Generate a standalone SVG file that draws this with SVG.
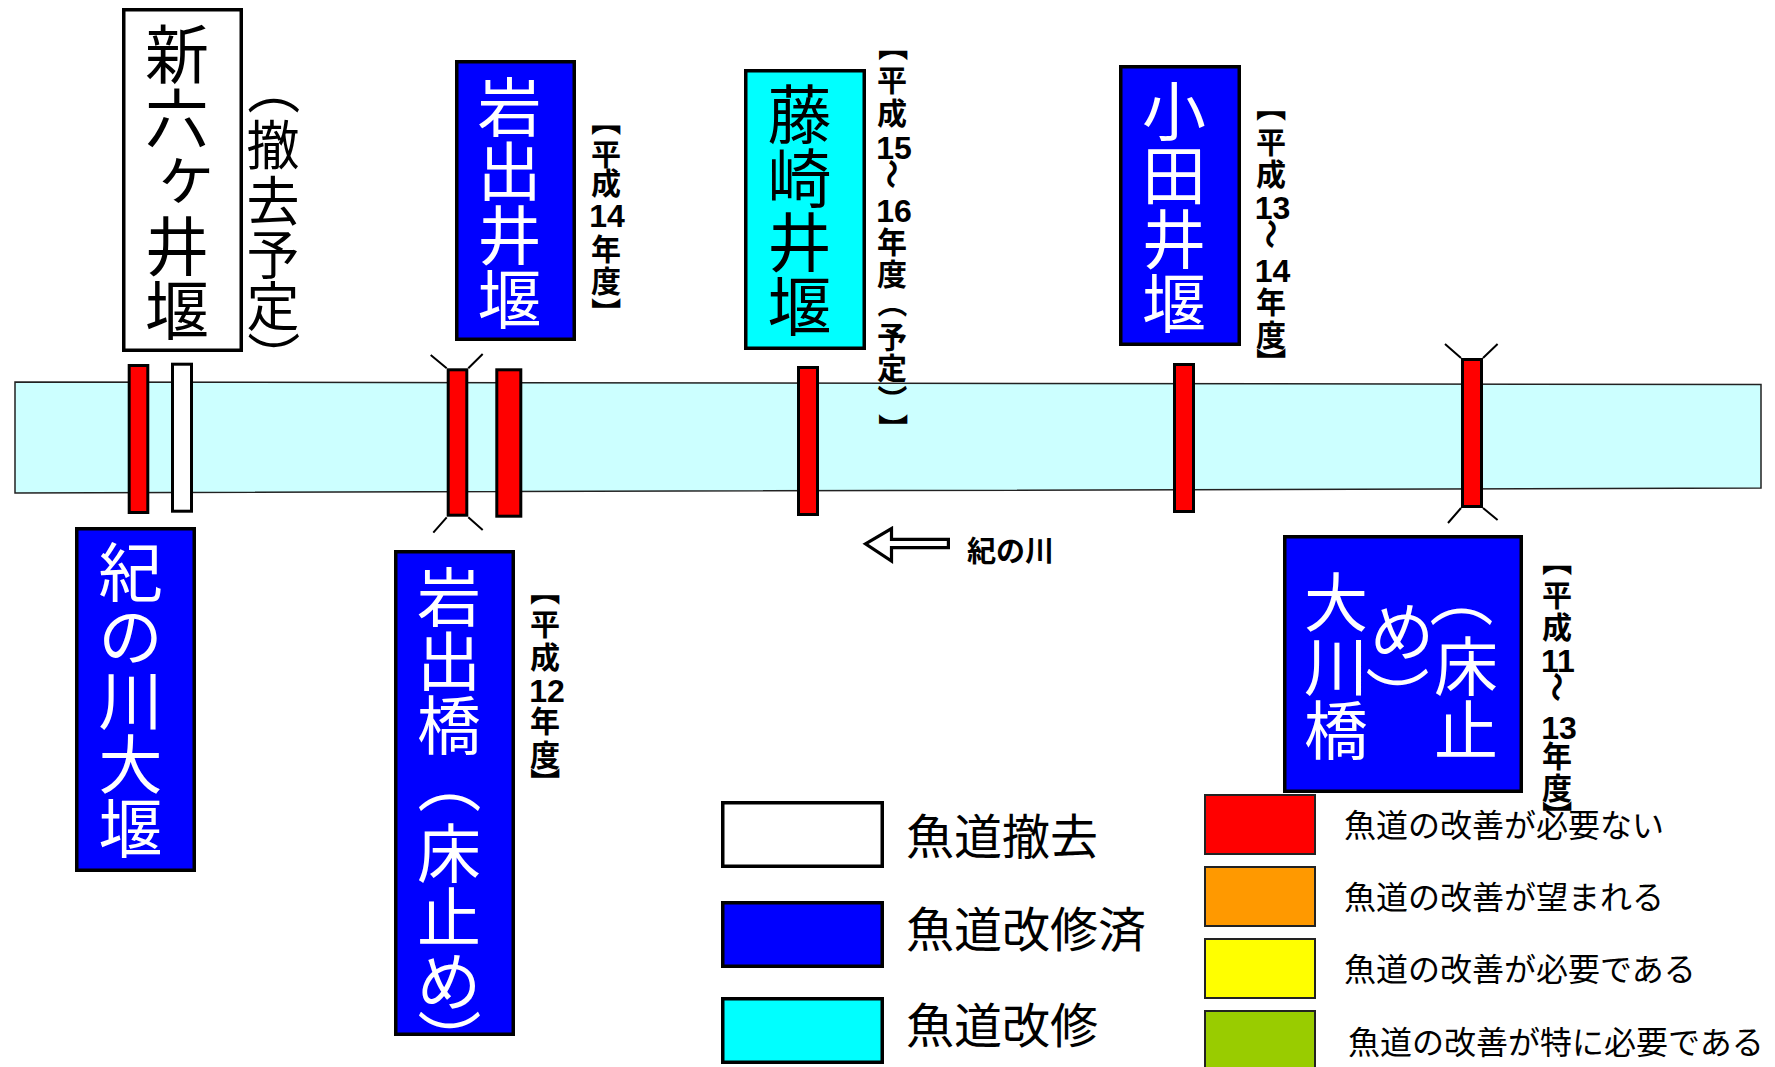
<svg xmlns="http://www.w3.org/2000/svg" width="1775" height="1067" viewBox="0 0 1775 1067">
<style>
text { font-family: "Noto Sans CJK JP", "Noto Sans CJK SC", sans-serif; }
.box { stroke: #000; stroke-width: 3.5; }
.bar { stroke: #000; stroke-width: 3; }
.tick { stroke: #000; stroke-width: 2; fill: none; }
.lbl { font-size: 64px; text-anchor: middle; }
.lbls { font-size: 53px; text-anchor: middle; }
.w { fill: #fff; }
.k { fill: #000; }
.yr { font-size: 30px; font-weight: bold; text-anchor: middle; fill: #000; }
.dg { font-family: "Liberation Sans", Arial, sans-serif; font-size: 32px; font-weight: bold; text-anchor: middle; fill: #000; }
.leg1 { font-size: 48px; fill: #000; }
.leg2 { font-size: 32px; fill: #000; }
.lbox { stroke: #222; stroke-width: 2; }
</style>
<rect width="1775" height="1067" fill="#fff"/>

<g id="river">
  <polygon points="15,382 1761,384.5 1761,488 15,493" fill="#ccffff" stroke="#222" stroke-width="1.5"/>
</g>

<g id="connectors">
  <g id="bar-shinrokka-old">
    <rect class="bar" x="129.2" y="365.5" width="18.6" height="147" fill="#ff0000"/>
  </g>
  <g id="bar-shinrokka-new">
    <rect class="bar" x="172.5" y="364.2" width="19" height="147" fill="#ffffff"/>
  </g>
  <g id="bar-iwadebashi">
    <rect class="bar" x="448.2" y="369.8" width="18.6" height="145.4" fill="#ff0000"/>
    <path class="tick" d="M430.7,355 L446.7,368.3 M468.3,368.3 L482.7,354 M446.7,517.3 L433.3,532.7 M468.3,517.3 L482.7,530"/>
  </g>
  <g id="bar-iwadeizeki">
    <rect class="bar" x="496.8" y="369.8" width="24" height="146.4" fill="#ff0000"/>
  </g>
  <g id="bar-fujisaki">
    <rect class="bar" x="798.5" y="367.5" width="19" height="147" fill="#ff0000"/>
  </g>
  <g id="bar-oda">
    <rect class="bar" x="1174.5" y="364.5" width="19" height="147" fill="#ff0000"/>
  </g>
  <g id="bar-okawabashi">
    <rect class="bar" x="1462.5" y="359.5" width="19" height="147" fill="#ff0000"/>
    <path class="tick" d="M1445,344 L1461,358 M1483,358 L1497.6,344 M1461,508 L1448,523 M1483,508 L1497.6,520"/>
  </g>
</g>

<g id="node-shinrokka">
  <rect class="box" x="123.75" y="9.75" width="117.5" height="340.5" fill="#fff"/>
  <text class="lbl k" x="177" y="77.8">新</text>
  <text class="lbl k" x="177" y="141.8">六</text>
  <text class="lbl k" x="186.5" y="197">ヶ</text>
  <text class="lbl k" x="177" y="269.8">井</text>
  <text class="lbl k" x="177" y="333.8">堰</text>
  <g id="shinrokka-note">
    <text class="lbls k" x="273" y="108.5" transform="rotate(90 273 88.4)">（</text>
    <text class="lbls k" x="273" y="165.1">撤</text>
    <text class="lbls k" x="273" y="221">去</text>
    <text class="lbls k" x="273" y="275">予</text>
    <text class="lbls k" x="273" y="325.6">定</text>
    <text class="lbls k" x="273" y="377.7" transform="rotate(90 273 357.6)">）</text>
  </g>
</g>

<g id="node-iwadeizeki">
  <rect class="box" x="456.75" y="61.75" width="117.5" height="277.5" fill="#0000ff"/>
  <text class="lbl w" x="509.5" y="131.3">岩</text>
  <text class="lbl w" x="509.5" y="195.3">出</text>
  <text class="lbl w" x="509.5" y="259.3">井</text>
  <text class="lbl w" x="509.5" y="323.3">堰</text>
  <g id="iwadeizeki-year">
    <text class="yr" x="606" y="132.1" transform="rotate(90 606 120.7)">【</text>
    <text class="yr" x="606" y="165.4">平</text>
    <text class="yr" x="606" y="194.4">成</text>
    <text class="dg" x="607" y="227">14</text>
    <text class="yr" x="606" y="259.9">年</text>
    <text class="yr" x="606" y="291.9">度</text>
    <text class="yr" x="606" y="323.9" transform="rotate(90 606 312.5)">】</text>
  </g>
</g>

<g id="node-fujisaki">
  <rect class="box" x="745.75" y="70.75" width="118.5" height="277.5" fill="#00ffff"/>
  <text class="lbl k" x="799.5" y="137.8">藤</text>
  <text class="lbl k" x="799.5" y="201.8">崎</text>
  <text class="lbl k" x="799.5" y="265.8">井</text>
  <text class="lbl k" x="799.5" y="329.8">堰</text>
  <g id="fujisaki-year">
    <text class="yr" x="893" y="57.4" transform="rotate(90 893 46)">【</text>
    <text class="yr" x="892" y="91.4">平</text>
    <text class="yr" x="892" y="124.4">成</text>
    <text class="dg" x="894" y="158.5">15</text>
    <text class="yr" x="892" y="185.4" transform="rotate(90 892 174)">〜</text>
    <text class="dg" x="894" y="221.5">16</text>
    <text class="yr" x="892" y="253.4">年</text>
    <text class="yr" x="892" y="285.4">度</text>
    <text class="yr" x="892" y="314.4" transform="rotate(90 892 303)">（</text>
    <text class="yr" x="892" y="348.4">予</text>
    <text class="yr" x="892" y="379.4">定</text>
    <text class="yr" x="892" y="410.8" transform="rotate(90 892 399.4)">）</text>
    <text class="yr" x="893" y="439.9" transform="rotate(90 893 428.5)">】</text>
  </g>
</g>

<g id="node-oda">
  <rect class="box" x="1120.75" y="66.75" width="118.5" height="277.5" fill="#0000ff"/>
  <text class="lbl w" x="1174" y="135.3">小</text>
  <text class="lbl w" x="1174" y="199.3">田</text>
  <text class="lbl w" x="1174" y="263.3">井</text>
  <text class="lbl w" x="1174" y="327.3">堰</text>
  <g id="oda-year">
    <text class="yr" x="1271" y="117.9" transform="rotate(90 1271 106.5)">【</text>
    <text class="yr" x="1271" y="153.4">平</text>
    <text class="yr" x="1271" y="185.4">成</text>
    <text class="dg" x="1272.5" y="218.5">13</text>
    <text class="yr" x="1271" y="245.4" transform="rotate(90 1271 234)">〜</text>
    <text class="dg" x="1272.5" y="281.5">14</text>
    <text class="yr" x="1271" y="313.4">年</text>
    <text class="yr" x="1271" y="346.4">度</text>
    <text class="yr" x="1271" y="373.9" transform="rotate(90 1271 362.5)">】</text>
  </g>
</g>

<g id="node-kinokawaozeki">
  <rect class="box" x="76.75" y="528.75" width="117.5" height="341.5" fill="#0000ff"/>
  <text class="lbl w" x="130.5" y="596.3">紀</text>
  <text class="lbl w" x="130.5" y="660.3">の</text>
  <text class="lbl w" x="130.5" y="724.3">川</text>
  <text class="lbl w" x="130.5" y="788.3">大</text>
  <text class="lbl w" x="130.5" y="852.3">堰</text>
</g>

<g id="node-iwadebashi">
  <rect class="box" x="395.75" y="551.75" width="117.5" height="482.5" fill="#0000ff"/>
  <text class="lbl w" x="449" y="621.3">岩</text>
  <text class="lbl w" x="449" y="685.3">出</text>
  <text class="lbl w" x="449" y="749.3">橋</text>
  <text class="lbl w" x="449" y="806.3" transform="rotate(90 449 782)">（</text>
  <text class="lbl w" x="449" y="877.3">床</text>
  <text class="lbl w" x="449" y="941.3">止</text>
  <text class="lbl w" x="449" y="1005.3">め</text>
  <text class="lbl w" x="449" y="1065.1" transform="rotate(90 449 1040.8)">）</text>
  <g id="iwadebashi-year">
    <text class="yr" x="545" y="601.9" transform="rotate(90 545 590.5)">【</text>
    <text class="yr" x="545" y="635.4">平</text>
    <text class="yr" x="545" y="668.4">成</text>
    <text class="dg" x="547" y="701.5">12</text>
    <text class="yr" x="545" y="732.4">年</text>
    <text class="yr" x="545" y="766.4">度</text>
    <text class="yr" x="545" y="793.9" transform="rotate(90 545 782.5)">】</text>
  </g>
</g>

<g id="node-okawabashi">
  <rect class="box" x="1284.75" y="536.75" width="236.5" height="254.5" fill="#0000ff"/>
  <text class="lbl w" x="1336" y="626.3">大</text>
  <text class="lbl w" x="1336" y="690.3">川</text>
  <text class="lbl w" x="1336" y="754.3">橋</text>
  <text class="lbl w" x="1402" y="654.8">め</text>
  <text class="lbl w" x="1397" y="722.1" transform="rotate(90 1397 697.8)">）</text>
  <text class="lbl w" x="1461" y="620.3" transform="rotate(90 1461 596)">（</text>
  <text class="lbl w" x="1466" y="690.3">床</text>
  <text class="lbl w" x="1466" y="754.3">止</text>
  <g id="okawabashi-year">
    <text class="yr" x="1557" y="572.4" transform="rotate(90 1557 561)">【</text>
    <text class="yr" x="1557" y="606.4">平</text>
    <text class="yr" x="1557" y="638.4">成</text>
    <text class="dg" x="1558" y="671.5">11</text>
    <text class="yr" x="1557" y="698.4" transform="rotate(90 1557 687)">〜</text>
    <text class="dg" x="1559" y="738.5">13</text>
    <text class="yr" x="1557" y="767.4">年</text>
    <text class="yr" x="1557" y="799.4">度</text>
    <text class="yr" x="1557" y="826.9" transform="rotate(90 1557 815.5)">】</text>
  </g>
</g>

<g id="flow-arrow">
  <polygon points="865.5,543.8 891.5,528.5 891.5,539.3 948.4,539.3 948.4,547.7 891.5,547.7 891.5,561" fill="#fff" stroke="#000" stroke-width="3.2" stroke-linejoin="miter"/>
  <text x="1010.5" y="561.5" font-size="29" font-weight="bold" text-anchor="middle" fill="#000">紀の川</text>
</g>

<g id="legend-status">
  <rect class="box" x="722.75" y="802.75" width="159.5" height="63.5" fill="#fff"/>
  <rect class="box" x="722.75" y="902.75" width="159.5" height="63.5" fill="#0000ff"/>
  <rect class="box" x="722.75" y="998.75" width="159.5" height="63.5" fill="#00ffff"/>
  <text class="leg1" x="906" y="853.7">魚道撤去</text>
  <text class="leg1" x="906" y="946.5">魚道改修済</text>
  <text class="leg1" x="906" y="1043">魚道改修</text>
</g>

<g id="legend-need">
  <rect class="lbox" x="1205" y="795" width="110" height="59" fill="#ff0000"/>
  <rect class="lbox" x="1205" y="867" width="110" height="59" fill="#ff9900"/>
  <rect class="lbox" x="1205" y="939" width="110" height="59" fill="#ffff00"/>
  <rect class="lbox" x="1205" y="1011" width="110" height="59" fill="#99cc00"/>
  <text class="leg2" x="1344" y="836.7">魚道の改善が必要ない</text>
  <text class="leg2" x="1344" y="909.2">魚道の改善が望まれる</text>
  <text class="leg2" x="1344" y="981.2">魚道の改善が必要である</text>
  <text class="leg2" x="1348" y="1053.7">魚道の改善が特に必要である</text>
</g>
</svg>
